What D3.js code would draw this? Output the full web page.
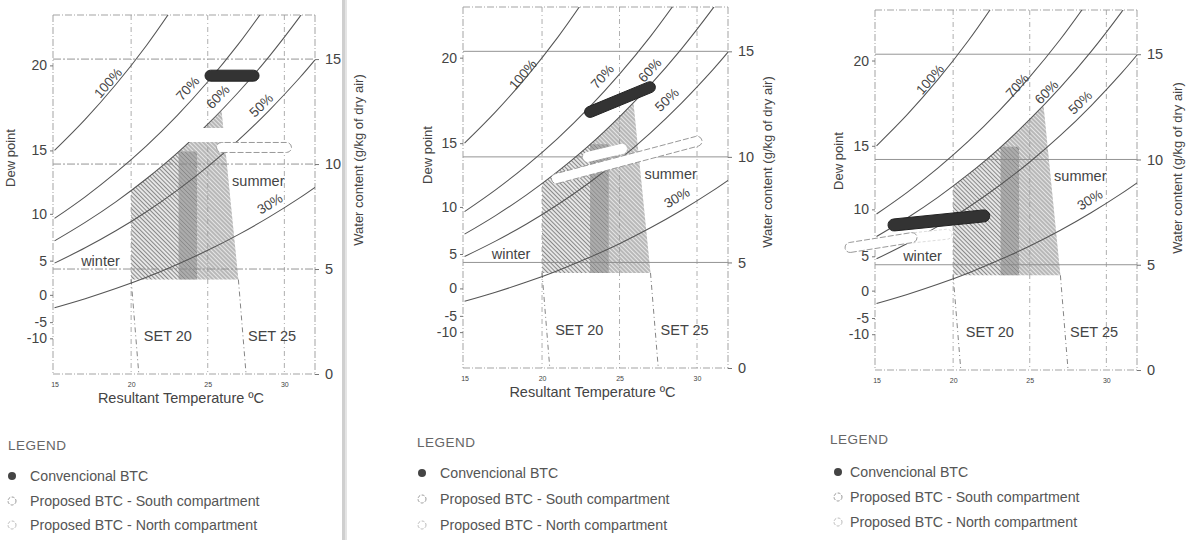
<!DOCTYPE html>
<html><head><meta charset="utf-8">
<script src="https://cdn.jsdelivr.net/npm/d3@7"></script>
<style>
body{margin:0;background:#fff;}
svg{display:block;font-family:"Liberation Sans",Arial,sans-serif;}
</style></head><body>
<svg id="c" width="1190" height="540"></svg>
<script>
// ---------------- DATA ----------------
const rhNames = ["100%","70%","60%","50%","30%"];
const curveT = [15,17,19,21,23,25,27,29,31,32];
const rh100 = [10.65,12.13,13.79,15.65,17.74];
const rh70  = [7.41,8.44,9.59,10.87,12.31,13.92,15.71,17.71];
const rh60  = [6.34,7.22,8.20,9.30,10.52,11.90,13.42,15.12,17.01,18.04];
const rh50  = [5.28,6.01,6.82,7.73,8.75,9.88,11.14,12.55,14.11,14.96];
const rh30  = [3.16,3.59,4.07,4.61,5.22,5.89,6.64,7.47,8.39,8.89];

const tempTicks  = [15,20,25,30];
const waterTicks = [0,5,10,15];
const dewTicks   = [20,15,10,5,0,-5,-10];
const dewTickW   = [14.7,10.65,7.63,5.4,3.77,2.47,1.7];

// comfort zones (temperature °C, water content g/kg)
const winterT = [20.0,20.0,21.0,22.0,23.1,24.3,24.3];
const winterW = [4.5,8.75,9.3,9.9,10.6,10.6,4.5];
const summerT = [23.1,23.1,24.0,25.0,25.9,27.0];
const summerW = [4.5,10.6,11.2,11.9,12.55,4.5];
const set20T = [20.0,20.5], set25T = [27.0,27.5], setW = [4.5,0];

// measured ranges per panel [start, end]
const convT  = [[25.18,27.99],[23.1,26.96],[16.14,22.0]];
const convW  = [[14.21,14.21],[12.13,13.3],[6.89,7.32]];
const southT = [[23.1,26.6],[22.96,25.16],[17.0,19.6]];
const southW = [[11.38,11.38],[10.0,10.38],[6.25,6.45]];
const northT = [[25.9,30.14],[20.93,30.0],[13.27,17.32]];
const northW = [[10.79,10.79],[8.97,10.74],[5.82,6.29]];

// label positions
const rhLabelT = [[18.5,23.7,25.67,28.5,29.06],[18.77,23.9,26.96,28.06,28.7],[18.5,24.2,26.1,28.3,28.93]];
const rhLabelW = [[13.86,13.6,13.2,12.8,8.1],[13.9,13.8,14.1,12.7,8.06],[13.8,13.5,13.2,12.7,8.08]];
const zoneLabels = ["summer","winter","SET 20","SET 25"];
const zoneLabelT = [28.3,18.0,22.4,29.2];
const zoneLabelW = [9.2,5.4,1.8,1.8];
const legendItems = ["Convencional BTC","Proposed BTC - South compartment","Proposed BTC - North compartment"];

// ---------------- LAYOUT ----------------
const panels = [
  {left:53,  top:15, w:262, h:359, xTitle:true,  legX:8,   legY:445, rowY:[476,501,525], dewX:10,  dewY:158, watX:358,  watY:160, gridDash:"8,2,2,2"},
  {left:463, top:7,  w:265, h:361, xTitle:true,  legX:417, legY:442, rowY:[473,499,525], dewX:427, dewY:155, watX:767,  watY:162, gridDash:null},
  {left:875, top:10, w:262, h:360, xTitle:false, legX:830, legY:439, rowY:[472,497,522], dewX:838, dewY:161, watX:1177, watY:168, gridDash:null}
];
const rhSeries = [rh100,rh70,rh60,rh50,rh30];
const ink = "#444";

const svg = d3.select("#c");
const defs = svg.append("defs");
function hatch(id, off){
  const p = defs.append("pattern").attr("id",id).attr("patternUnits","userSpaceOnUse")
    .attr("width",3).attr("height",3).attr("patternTransform","rotate(45)");
  p.append("line").attr("x1",0).attr("x2",3).attr("y1",off).attr("y2",off)
    .attr("stroke","#777").attr("stroke-width",0.85);
}
hatch("hW",0.5); hatch("hS",2.0);

// separator (page binding shadow)
svg.append("rect").attr("x",342).attr("y",0).attr("width",5).attr("height",540).attr("fill","#cfcfcf");
svg.append("rect").attr("x",345).attr("y",0).attr("width",2).attr("height",540).attr("fill","#e4e4e4");

function capsule(x1,y1,x2,y2,r){
  const a=Math.atan2(y2-y1,x2-x1), nx=-Math.sin(a)*r, ny=Math.cos(a)*r;
  return `M${x1+nx},${y1+ny}L${x2+nx},${y2+ny}A${r},${r} 0 0 0 ${x2-nx},${y2-ny}L${x1-nx},${y1-ny}A${r},${r} 0 0 0 ${x1+nx},${y1+ny}Z`;
}
function interp(Ts,Ws,t){
  for(let i=0;i<Ws.length-1;i++){ if(t>=Ts[i]&&t<=Ts[i+1]) return Ws[i]+(Ws[i+1]-Ws[i])*(t-Ts[i])/(Ts[i+1]-Ts[i]); }
  return Ws[Ws.length-1];
}

panels.forEach((P,pi)=>{
  const g = svg.append("g");
  const x = d3.scaleLinear().domain([14.9,32.0]).range([P.left,P.left+P.w]);
  const y = d3.scaleLinear().domain([0,17.1]).range([P.top+P.h,P.top]);
  const L=P.left,R=P.left+P.w,T=P.top,B=P.top+P.h;
  const cid="clip"+pi;
  defs.append("clipPath").attr("id",cid).append("rect").attr("x",L).attr("y",T).attr("width",P.w).attr("height",P.h);

  // zones
  const poly = (Ts,Ws)=>Ts.map((t,i)=>[x(t),y(Ws[i])]);
  const line = d3.line();
  [[winterT,winterW,"hW"],[summerT,summerW,"hS"]].forEach(([Ts,Ws,id])=>{
    g.append("path").attr("d",line(poly(Ts,Ws))+"Z").attr("fill","rgba(130,130,130,0.2)");
    g.append("path").attr("d",line(poly(Ts,Ws))+"Z").attr("fill",`url(#${id})`);
  });

  // grid
  waterTicks.filter(v=>v>0).forEach(v=>{
    g.append("line").attr("x1",L).attr("x2",R).attr("y1",y(v)).attr("y2",y(v))
      .attr("stroke","#888").attr("stroke-width",0.9).attr("stroke-dasharray",P.gridDash);
  });
  tempTicks.filter(v=>v>15).forEach(v=>{
    g.append("line").attr("x1",x(v)).attr("x2",x(v)).attr("y1",T).attr("y2",B)
      .attr("stroke","#999").attr("stroke-width",0.8).attr("stroke-dasharray","5,3,1,3");
  });
  [set20T,set25T].forEach(st=>{
    g.append("line").attr("x1",x(st[0])).attr("y1",y(setW[0])).attr("x2",x(st[1])).attr("y2",y(setW[1]))
      .attr("stroke","#777").attr("stroke-width",0.9).attr("stroke-dasharray","5,3,1,3");
  });
  // frame
  [[L,T,R,T],[L,B,R,B],[L,T,L,B],[R,T,R,B]].forEach(s=>{
    g.append("line").attr("x1",s[0]).attr("y1",s[1]).attr("x2",s[2]).attr("y2",s[3])
      .attr("stroke","#999").attr("stroke-width",0.9).attr("stroke-dasharray","7,2,1,2");
  });

  // RH curves
  const cl = d3.line().x(d=>x(d[0])).y(d=>y(d[1])).curve(d3.curveCatmullRom);
  rhSeries.forEach(ws=>{
    g.append("path").attr("clip-path",`url(#${cid})`).attr("d",cl(ws.map((w,i)=>[curveT[i],w])))
      .attr("fill","none").attr("stroke","#555").attr("stroke-width",1.05);
  });

  // RH labels
  rhNames.forEach((n,i)=>{
    const ws=rhSeries[i], t=rhLabelT[pi][i], Ts=curveT.slice(0,ws.length);
    const ang=Math.atan2(y(interp(Ts,ws,t+0.5))-y(interp(Ts,ws,t-0.5)), x(t+0.5)-x(t-0.5))*180/Math.PI;
    const px=x(t), py=y(rhLabelW[pi][i]);
    g.append("text").attr("x",px).attr("y",py).attr("transform",`rotate(${ang},${px},${py})`)
      .attr("text-anchor","middle").attr("dominant-baseline","central")
      .attr("font-size",13.5).attr("fill",ink).text(n);
  });
  zoneLabels.forEach((n,i)=>{
    g.append("text").attr("x",x(zoneLabelT[i])).attr("y",y(zoneLabelW[i])).attr("text-anchor","middle")
      .attr("dominant-baseline","central").attr("font-size",14.5).attr("fill",ink).text(n);
  });

  // overlays
  const cap=(ts,ws,r)=>capsule(x(ts[0]),y(ws[0]),x(ts[1]),y(ws[1]),r);
  g.append("path").attr("d",cap(southT[pi],southW[pi],pi===0?7:5)).attr("fill","#fff")
    .attr("stroke",pi===2?"#ddd":"none").attr("stroke-dasharray","3,2");
  g.append("path").attr("d",cap(northT[pi],northW[pi],5)).attr("fill","#fff")
    .attr("stroke","#999").attr("stroke-width",1).attr("stroke-dasharray","6,2");
  g.append("path").attr("d",cap(convT[pi],convW[pi],pi===2?6:5.5)).attr("fill","#333").attr("stroke","#222");

  // axes
  const axL = d3.axisLeft(y).tickValues(dewTickW).tickSize(3).tickFormat((d,i)=>dewTicks[i]);
  const axR = d3.axisRight(y).tickValues(waterTicks).tickSize(4).tickPadding(6);
  const axB = d3.axisBottom(x).tickValues(tempTicks).tickSize(0).tickPadding(8);
  const sty = (sel,fs)=>{ sel.select(".domain").remove();
    sel.selectAll("line").attr("stroke","#777");
    sel.selectAll("text").attr("fill",ink).attr("font-size",fs).attr("font-family","Liberation Sans, Arial, sans-serif"); };
  sty(g.append("g").attr("transform",`translate(${L},0)`).call(axL),14);
  sty(g.append("g").attr("transform",`translate(${R},0)`).call(axR),14.5);
  sty(g.append("g").attr("transform",`translate(0,${B})`).call(axB),7);

  // titles
  g.append("text").attr("transform",`translate(${P.dewX},${P.dewY}) rotate(-90)`).attr("text-anchor","middle")
    .attr("dominant-baseline","central").attr("font-size",13).attr("fill",ink).text("Dew point");
  g.append("text").attr("transform",`translate(${P.watX},${P.watY}) rotate(-90)`).attr("text-anchor","middle")
    .attr("dominant-baseline","central").attr("font-size",13).attr("fill",ink).text("Water content (g/kg of dry air)");
  if(P.xTitle) g.append("text").attr("x",(L+R)/2-3).attr("y",B+29).attr("text-anchor","middle")
    .attr("font-size",14.5).attr("fill",ink).text("Resultant Temperature ºC");

  // legend
  g.append("text").attr("x",P.legX).attr("y",P.legY).attr("dominant-baseline","central")
    .attr("font-size",13.5).attr("fill","#666").attr("letter-spacing",0.5).text("LEGEND");
  legendItems.forEach((n,i)=>{
    const cy=P.rowY[i], cx=P.legX+(pi===0?4:(pi===1?5:8));
    const c=g.append("circle").attr("cx",cx).attr("cy",cy).attr("r",4);
    if(i===0) c.attr("fill","#444"); else c.attr("fill","none").attr("stroke",i===1?"#999":"#bbb").attr("stroke-dasharray","3,1.5");
    g.append("text").attr("x",cx+(pi===2?12:18)).attr("y",cy).attr("dominant-baseline","central")
      .attr("font-size",14.2).attr("fill","#555").text(n);
  });
});
</script>
</body></html>
